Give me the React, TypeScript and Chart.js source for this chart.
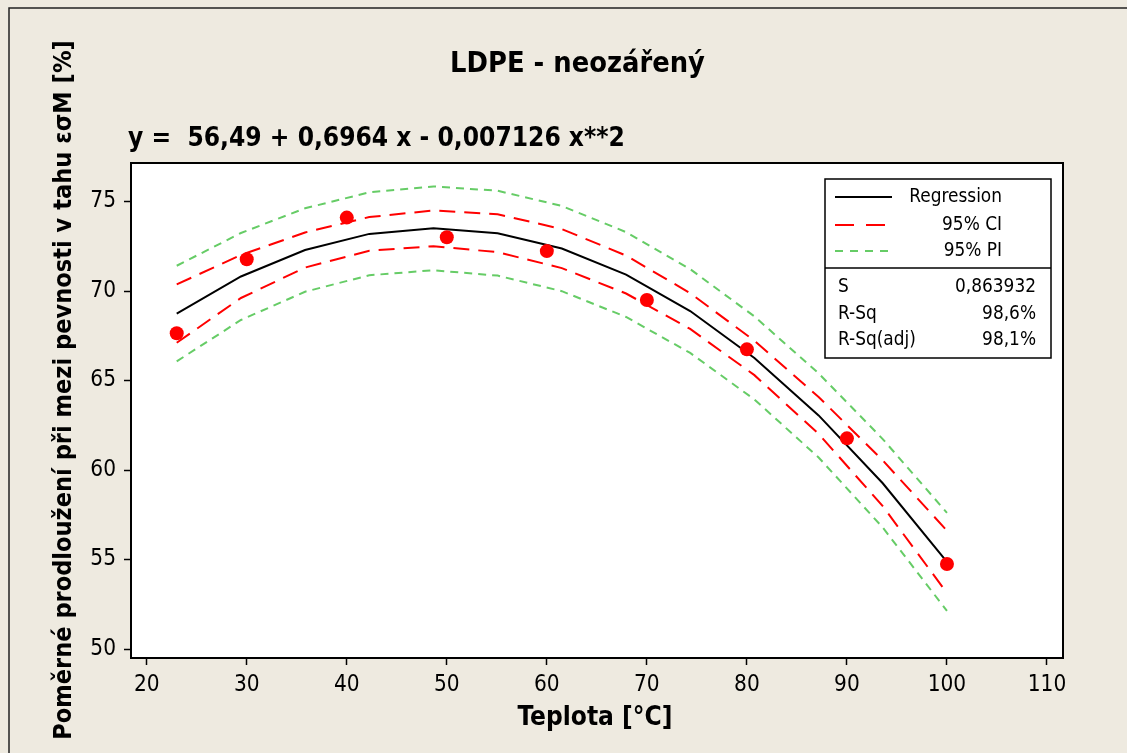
import React, { useEffect, useRef } from "react";
import { Chart, registerables } from "chart.js";

Chart.register(...registerables);

const W = 1127;
const H = 753;
const FAMILY = '"DejaVu Sans Condensed", "DejaVu Sans", sans-serif';

const chartTitle = "LDPE - neozářený";
const equation = "y =  56,49 + 0,6964 x - 0,007126 x**2";
const xTitle = "Teplota [°C]";
const yTitle = "Poměrné prodloužení při mezi pevnosti v tahu εσM [%]";
const legendLabels = ["Regression", "95% CI", "95% PI"];
const statLabels = ["S", "R-Sq", "R-Sq(adj)"];
const statValues = ["0,863932", "98,6%", "98,1%"];

const xTicks = [20, 30, 40, 50, 60, 70, 80, 90, 100, 110];
const yTicks = [50, 55, 60, 65, 70, 75];

// measured data points
const pointX = [23, 30, 40, 50, 60, 70, 80, 90, 100];
const pointY = [67.64, 71.77, 74.1, 73.0, 72.23, 69.5, 66.74, 61.77, 54.75];

// regression curve and bands, read at the curve's vertices
const fitX = [23, 29.42, 35.83, 42.25, 48.67, 55.08, 61.5, 67.92, 74.33, 80.75, 87.17, 93.58, 100];
const fitY = [68.74, 70.81, 72.29, 73.19, 73.5, 73.23, 72.37, 70.92, 68.88, 66.26, 63.05, 59.26, 54.87];
const ciLow = [67.11, 69.61, 71.31, 72.25, 72.5, 72.17, 71.28, 69.86, 67.88, 65.3, 62.02, 57.98, 53.13];
const ciHigh = [70.37, 72.01, 73.27, 74.13, 74.5, 74.29, 73.46, 71.98, 69.88, 67.22, 64.08, 60.54, 56.61];
const piLow = [66.07, 68.38, 69.96, 70.88, 71.16, 70.86, 69.99, 68.55, 66.54, 63.94, 60.7, 56.79, 52.13];
const piHigh = [71.41, 73.24, 74.62, 75.51, 75.84, 75.6, 74.75, 73.29, 71.22, 68.58, 65.4, 61.73, 57.61];

const BG = "#EEEAE0";
const RED = "#FF0000";
const GREEN = "#66CC66";

function fitSize(text: string, weight: string, target: number): number {
  const c = document.createElement("canvas").getContext("2d")!;
  c.font = `${weight} 100px ${FAMILY}`;
  return (100 * target) / c.measureText(text).width;
}

function pts(xs: number[], ys: number[]) {
  return xs.map((x, i) => ({ x, y: ys[i] }));
}

export default function App() {
  const ref = useRef<HTMLCanvasElement>(null);

  useEffect(() => {
    const canvas = ref.current!;
    const tickSize = fitSize("110", "normal", 38.5);
    const titleSize = fitSize(chartTitle, "bold", 255);
    const eqSize = fitSize(equation, "bold", 497);
    const xtSize = fitSize(xTitle, "bold", 155);
    const ytSize = fitSize(yTitle, "bold", 700);
    const legSize = fitSize("Regression", "normal", 92.7);

    const Y_AXIS_W = 60;
    const X_AXIS_H = 40;
    const areaLeft = 131, areaTop = 163, areaRight = 1063, areaBottom = 658;

    const decor = {
      id: "decor",
      beforeDraw(chart: any) {
        const ctx = chart.ctx;
        const a = chart.chartArea;
        ctx.save();
        ctx.fillStyle = BG;
        ctx.fillRect(0, 0, W, H);
        ctx.strokeStyle = "#222";
        ctx.lineWidth = 1.5;
        ctx.strokeRect(9, 8, W + 20, H + 20);
        ctx.fillStyle = "#fff";
        ctx.fillRect(a.left, a.top, a.right - a.left, a.bottom - a.top);
        ctx.restore();
      },
      afterDraw(chart: any) {
        const ctx = chart.ctx;
        const a = chart.chartArea;
        ctx.save();
        ctx.strokeStyle = "#000";
        ctx.lineWidth = 2;
        ctx.strokeRect(a.left, a.top, a.right - a.left, a.bottom - a.top);

        ctx.fillStyle = "#000";
        ctx.textBaseline = "alphabetic";
        ctx.font = `bold ${titleSize}px ${FAMILY}`;
        ctx.textAlign = "center";
        ctx.fillText(chartTitle, 577.5, 71.5);

        ctx.font = `bold ${eqSize}px ${FAMILY}`;
        ctx.textAlign = "left";
        ctx.fillText(equation, 128, 146);

        ctx.font = `bold ${xtSize}px ${FAMILY}`;
        ctx.textAlign = "center";
        ctx.fillText(xTitle, 595, 725);

        ctx.save();
        ctx.translate(71, 390);
        ctx.rotate(-Math.PI / 2);
        ctx.font = `bold ${ytSize}px ${FAMILY}`;
        ctx.textAlign = "center";
        ctx.fillText(yTitle, 0, 0);
        ctx.restore();

        // legend box
        const lx0 = 825, ly0 = 179, lx1 = 1051, ly1 = 358, div = 268;
        ctx.fillStyle = "#fff";
        ctx.fillRect(lx0, ly0, lx1 - lx0, ly1 - ly0);
        ctx.strokeStyle = "#000";
        ctx.lineWidth = 1.5;
        ctx.strokeRect(lx0, ly0, lx1 - lx0, ly1 - ly0);
        ctx.beginPath();
        ctx.moveTo(lx0, div);
        ctx.lineTo(lx1, div);
        ctx.stroke();

        const rows = [197, 225, 251];
        const styles = [
          { c: "#000", d: [] as number[] },
          { c: RED, d: [19, 12] },
          { c: GREEN, d: [8, 7] },
        ];
        rows.forEach((y, i) => {
          ctx.beginPath();
          ctx.strokeStyle = styles[i].c;
          ctx.lineWidth = 2;
          ctx.setLineDash(styles[i].d);
          ctx.moveTo(835, y);
          ctx.lineTo(892, y);
          ctx.stroke();
        });
        ctx.setLineDash([]);
        ctx.fillStyle = "#000";
        ctx.font = `normal ${legSize}px ${FAMILY}`;
        ctx.textBaseline = "middle";
        ctx.textAlign = "right";
        legendLabels.forEach((t, i) => ctx.fillText(t, 1002, rows[i]));

        const srows = [287, 314, 340];
        statLabels.forEach((t, i) => {
          ctx.textAlign = "left";
          ctx.fillText(t, 838, srows[i]);
          ctx.textAlign = "right";
          ctx.fillText(statValues[i], 1036, srows[i]);
        });
        ctx.restore();
      },
    };

    const lineDs = (label: string, ys: number[], color: string, dash: number[]) => ({
      label,
      data: pts(fitX, ys),
      showLine: true,
      borderColor: color,
      borderWidth: 2,
      borderDash: dash,
      pointRadius: 0,
      fill: false,
      tension: 0,
    });

    const chart = new Chart(canvas, {
      type: "scatter",
      data: {
        datasets: [
          {
            label: "Data",
            data: pts(pointX, pointY),
            pointRadius: 7,
            pointBorderWidth: 0,
            backgroundColor: RED,
            borderColor: RED,
            showLine: false,
          } as any,
          lineDs("Regression", fitY, "#000", []),
          lineDs("CI upper", ciHigh, RED, [16, 9]),
          lineDs("CI lower", ciLow, RED, [16, 9]),
          lineDs("PI upper", piHigh, GREEN, [8, 6]),
          lineDs("PI lower", piLow, GREEN, [8, 6]),
        ],
      },
      options: {
        responsive: false,
        maintainAspectRatio: false,
        animation: false,
        events: [],
        layout: {
          padding: {
            left: areaLeft - Y_AXIS_W,
            top: areaTop,
            right: W - areaRight,
            bottom: H - areaBottom - X_AXIS_H,
          },
        },
        plugins: {
          legend: { display: false },
          tooltip: { enabled: false },
          title: { display: false },
        },
        scales: {
          x: {
            type: "linear",
            min: 18.43,
            max: 111.6,
            afterBuildTicks: (s: any) => {
              s.ticks = xTicks.map((v) => ({ value: v }));
            },
            afterFit: (s: any) => {
              s.height = X_AXIS_H;
            },
            grid: {
              drawOnChartArea: false,
              drawTicks: true,
              tickLength: 7,
              tickColor: "#000",
              tickWidth: 1.5,
            },
            border: { display: true, color: "#000", width: 2 },
            ticks: {
              color: "#000",
              font: { family: FAMILY, size: tickSize },
              padding: 7,
              maxRotation: 0,
              autoSkip: false,
              callback: (v: any) => String(v),
            },
          },
          y: {
            type: "linear",
            min: 49.5,
            max: 77.15,
            afterBuildTicks: (s: any) => {
              s.ticks = yTicks.map((v) => ({ value: v }));
            },
            afterFit: (s: any) => {
              s.width = Y_AXIS_W;
            },
            grid: {
              drawOnChartArea: false,
              drawTicks: true,
              tickLength: 7,
              tickColor: "#000",
              tickWidth: 1.5,
            },
            border: { display: true, color: "#000", width: 2 },
            ticks: {
              color: "#000",
              font: { family: FAMILY, size: tickSize },
              padding: 8,
              autoSkip: false,
              callback: (v: any) => String(v),
            },
          },
        },
      } as any,
      plugins: [decor],
    });

    return () => chart.destroy();
  }, []);

  return (
    <div style={{ position: "absolute", left: 0, top: 0, width: W, height: H, overflow: "hidden" }}>
      <canvas ref={ref} width={W} height={H} style={{ display: "block", width: W, height: H }} />
    </div>
  );
}
